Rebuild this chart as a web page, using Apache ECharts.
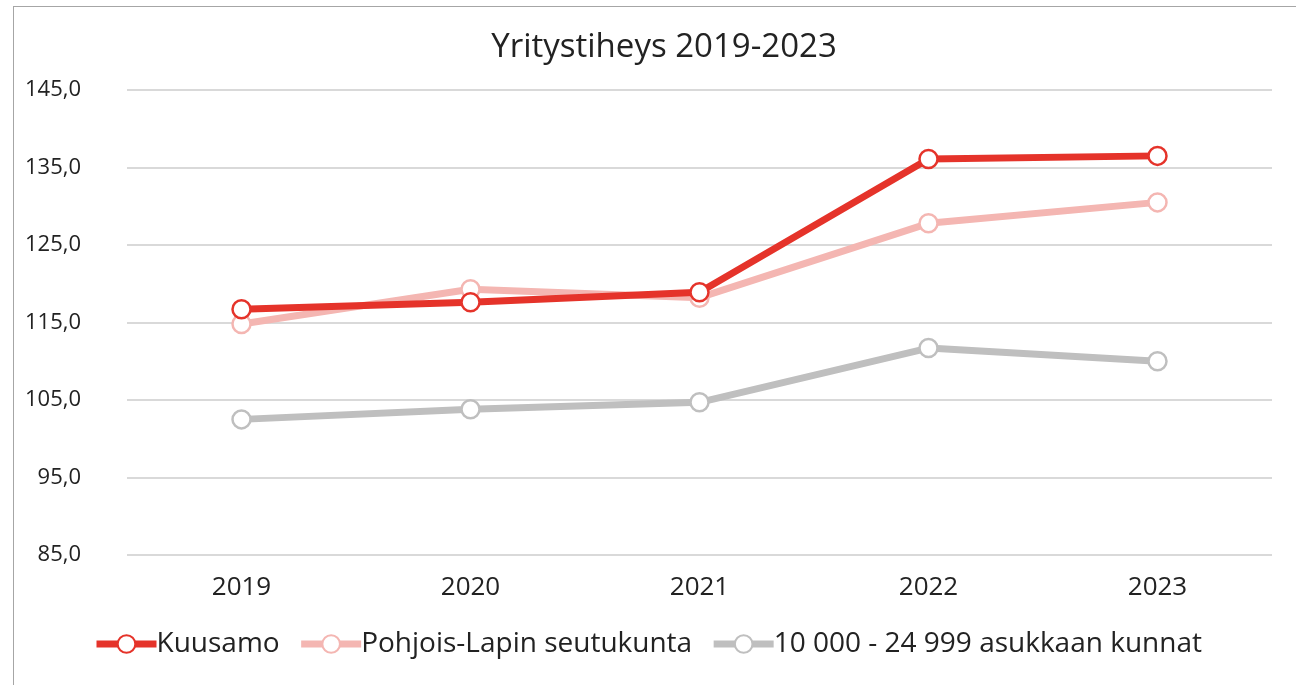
<!DOCTYPE html>
<html><head><meta charset="utf-8">
<script src="https://cdn.jsdelivr.net/npm/echarts@6/dist/echarts.min.js"></script>
<style>
html,body{margin:0;padding:0;background:#fff;}
#frame{position:absolute;left:13px;top:6px;width:1300px;height:700px;border:1.5px solid #a6a6a6;box-sizing:border-box;}
#c{position:absolute;left:0;top:0;width:1296px;height:685px;}
</style></head><body>
<div id="frame"></div>
<div id="c"></div>
<script>
const categories = ['2019','2020','2021','2022','2023'];
const kuusamo = [116.7, 117.6, 118.9, 136.1, 136.5];
const pohjoisLappi = [114.8, 119.3, 118.2, 127.8, 130.5];
const kunnat = [102.5, 103.8, 104.7, 111.7, 110.0];
const seriesNames = ['Kuusamo', 'Pohjois-Lapin seutukunta', '10 000 - 24 999 asukkaan kunnat'];
const colors = ['#E5332A', '#F4B6B2', '#BFBFBF'];
const fontFam = '"Open Sans", sans-serif';

function mk(name, data, color, z) {
  return {
    name, type: 'line', data, z,
    symbol: 'circle', symbolSize: 18,
    lineStyle: { color, width: 7 },
    itemStyle: { color: '#fff', borderColor: color, borderWidth: 2.5 },
    emphasis: { disabled: true }
  };
}
const chart = echarts.init(document.getElementById('c'));
chart.setOption({
  animation: false,
  title: { text: 'Yritystiheys 2019-2023', left: 659, textAlign: 'center', top: 26,
    textStyle: { fontFamily: fontFam, fontSize: 33, fontWeight: 'normal', color: '#222' } },
  grid: { left: 127, right: 24, top: 90, bottom: 130 },
  xAxis: { type: 'category', data: categories, boundaryGap: true,
    axisLine: { show: false }, axisTick: { show: false },
    axisLabel: { fontFamily: fontFam, fontSize: 26, color: '#222', margin: 20 } },
  yAxis: { type: 'value', min: 85, max: 145, interval: 10,
    axisLine: { show: false }, axisTick: { show: false },
    splitLine: { lineStyle: { color: '#d9d9d9', width: 2 } },
    axisLabel: { fontFamily: fontFam, fontSize: 22, color: '#222', margin: 46,
      formatter: v => v.toFixed(1).replace('.', ',') } },
  legend: { bottom: 22, left: 88, itemWidth: 60, itemHeight: 22, itemGap: 18,
    lineStyle: { width: 7 },
    textStyle: { fontFamily: fontFam, fontSize: 28, color: '#222', padding: [0,0,0,-5] },
    data: seriesNames },
  series: [
    mk(seriesNames[2], kunnat, colors[2], 1),
    mk(seriesNames[1], pohjoisLappi, colors[1], 2),
    mk(seriesNames[0], kuusamo, colors[0], 3)
  ]
});
</script>
</body></html>
